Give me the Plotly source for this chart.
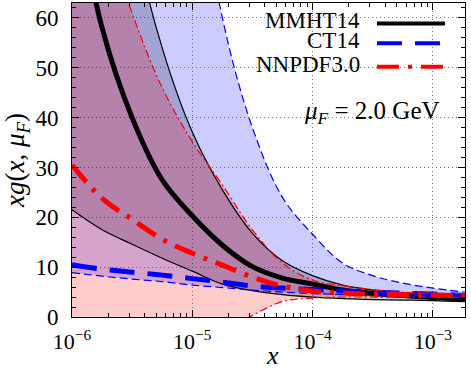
import plotly.graph_objects as go

# x grid (log spaced) and gluon PDF bands
x_vals = [1e-6, 1.78e-6, 3.16e-6, 5.62e-6, 1e-5, 1.78e-5, 3.16e-5, 5.62e-5,
          1e-4, 1.78e-4, 3.16e-4, 5.62e-4, 1e-3, 1.85e-3]

mmht_central = [88, 58, 40, 27.5, 20.3, 14.4, 10.1, 7.8, 6.6, 5.4, 4.7, 4.3, 3.9, 3.6]
mmht_upper = [166, 114, 78, 54, 37.1, 25.5, 16.8, 11.3, 8.3, 6.4, 5.4, 4.8, 4.4, 4.1]
mmht_lower = [21.5, 17.5, 14.6, 11.8, 9.2, 6.6, 5.3, 4.5, 4.0, 3.7, 3.5, 3.4, 3.3, 3.1]

ct14_central = [10.5, 9.6, 9.0, 8.4, 7.7, 7.0, 6.2, 5.8, 5.5, 5.2, 5.0, 4.8, 4.6, 4.3]
ct14_upper = [640, 400, 250, 155, 97, 60, 38, 24, 16.6, 10.8, 8.3, 6.8, 5.8, 5.0]
ct14_lower = [8.9, 8.2, 7.6, 7.1, 6.4, 5.9, 5.4, 5.0, 4.7, 4.5, 4.3, 4.2, 4.1, 3.9]

nnpdf_central = [30.5, 23.8, 19.6, 15.6, 12.8, 10.4, 8.0, 6.2, 5.2, 4.8, 4.6, 4.5, 4.4, 4.3]
nnpdf_upper = [106, 80, 61, 46, 35.2, 26.5, 17.5, 10.8, 7.4, 6.3, 5.5, 5.0, 4.8, 4.6]
nnpdf_lower = [-45, -32, -22, -14, -8, -3.5, 0.3, 3.1, 3.8, 4.0, 4.0, 4.0, 4.0, 3.9]

FONT = "Liberation Serif"

sets = [
    # name, central, upper, lower, color, fill, thick dash, thin dash
    ("MMHT14", mmht_central, mmht_upper, mmht_lower, "black", "rgba(0,0,0,0.2)",
     "solid", "solid"),
    ("CT14", ct14_central, ct14_upper, ct14_lower, "#0000ff", "rgba(0,0,255,0.2)",
     "25px,13px", "8px,4px"),
    ("NNPDF3.0", nnpdf_central, nnpdf_upper, nnpdf_lower, "#ff0000", "rgba(255,0,0,0.2)",
     "22px,9px,4px,9px", "8px,3px,2px,3px"),
]

fig = go.Figure()

# Bands
for name, cen, up, lo, col, fillc, dth, dtn in sets:
    fig.add_trace(go.Scatter(x=x_vals, y=lo, mode="lines", line=dict(width=0, shape="spline"),
                             showlegend=False, hoverinfo="skip"))
    fig.add_trace(go.Scatter(x=x_vals, y=up, mode="lines", line=dict(width=0, shape="spline"),
                             fill="tonexty", fillcolor=fillc, showlegend=False, hoverinfo="skip"))

# Edge lines and central lines
for name, cen, up, lo, col, fillc, dth, dtn in sets:
    for edge in (up, lo):
        fig.add_trace(go.Scatter(x=x_vals, y=edge, mode="lines", showlegend=False,
                                 line=dict(color=col, width=1.2, dash=dtn, shape="spline")))
    fig.add_trace(go.Scatter(x=x_vals, y=cen, mode="lines", name=name, showlegend=False,
                             line=dict(color=col, width=5, dash=dth, shape="spline")))

# Hand-made legend (text on the left, sample on the right)
legend_y = [0.935, 0.872, 0.797]
for (name, cen, up, lo, col, fillc, dth, dtn), ly in zip(sets, legend_y):
    fig.add_shape(type="line", xref="paper", yref="paper", x0=0.776, x1=0.949, y0=ly, y1=ly,
                  line=dict(color=col, width=4, dash=dth))
    fig.add_annotation(xref="paper", yref="paper", x=0.738, y=ly + 0.008, text=name,
                       showarrow=False, xanchor="right", yanchor="middle",
                       font=dict(family=FONT, size=23, color="black"))

fig.add_annotation(xref="paper", yref="paper", x=0.941, y=0.65,
                   text="<i>μ</i><sub><i>F</i></sub> = 2.0 GeV",
                   showarrow=False, xanchor="right", yanchor="middle",
                   font=dict(family=FONT, size=25, color="black"))

# x-axis title placed by hand below the tick labels
fig.add_annotation(xref="paper", yref="paper", x=0.51, y=-0.124, text="<i>x</i>",
                   showarrow=False, xanchor="center", yanchor="middle",
                   font=dict(family=FONT, size=26, color="black"))

minor_x = [m * 10.0 ** e for e in range(-6, -2) for m in range(2, 10)]

fig.update_xaxes(
    type="log", range=[-6, -2.733],
    tickvals=[1e-6, 1e-5, 1e-4, 1e-3],
    ticktext=["10<sup>−6</sup>", "10<sup>−5</sup>", "10<sup>−4</sup>", "10<sup>−3</sup>"],
    ticks="inside", ticklen=7, tickcolor="black", ticklabelstandoff=5,
    minor=dict(ticks="inside", ticklen=4, tickcolor="black", tickvals=minor_x, showgrid=False),
    showline=True, linecolor="black", linewidth=1, mirror="allticks",
    showgrid=True, gridcolor="#777777", griddash="1px,3px", gridwidth=1,
    tickfont=dict(family=FONT, size=22, color="black"),
    zeroline=False, automargin=False,
)
fig.update_yaxes(
    range=[0, 63], tickvals=[0, 10, 20, 30, 40, 50, 60],
    ticks="inside", ticklen=7, tickcolor="black", ticklabelstandoff=8,
    minor=dict(ticks="inside", ticklen=4, tickcolor="black", dtick=2, showgrid=False),
    showline=True, linecolor="black", linewidth=1, mirror="allticks",
    showgrid=True, gridcolor="#777777", griddash="1px,3px", gridwidth=1,
    title=dict(text="<i>xg</i>(<i>x</i>, <i>μ</i><sub><i>F</i></sub>)",
               font=dict(family=FONT, size=27, color="black"), standoff=4),
    tickfont=dict(family=FONT, size=23, color="black"),
    zeroline=False, automargin=False,
)

fig.update_layout(
    width=471, height=369,
    margin=dict(l=72, r=6, t=3, b=52),
    plot_bgcolor="white", paper_bgcolor="white",
    showlegend=False,
)

# drop the browser's default 8px body margin so the chart sits at the page corner
fig.write_html("out.html", config={"displayModeBar": False},
               post_script="document.body.style.margin='0';")
